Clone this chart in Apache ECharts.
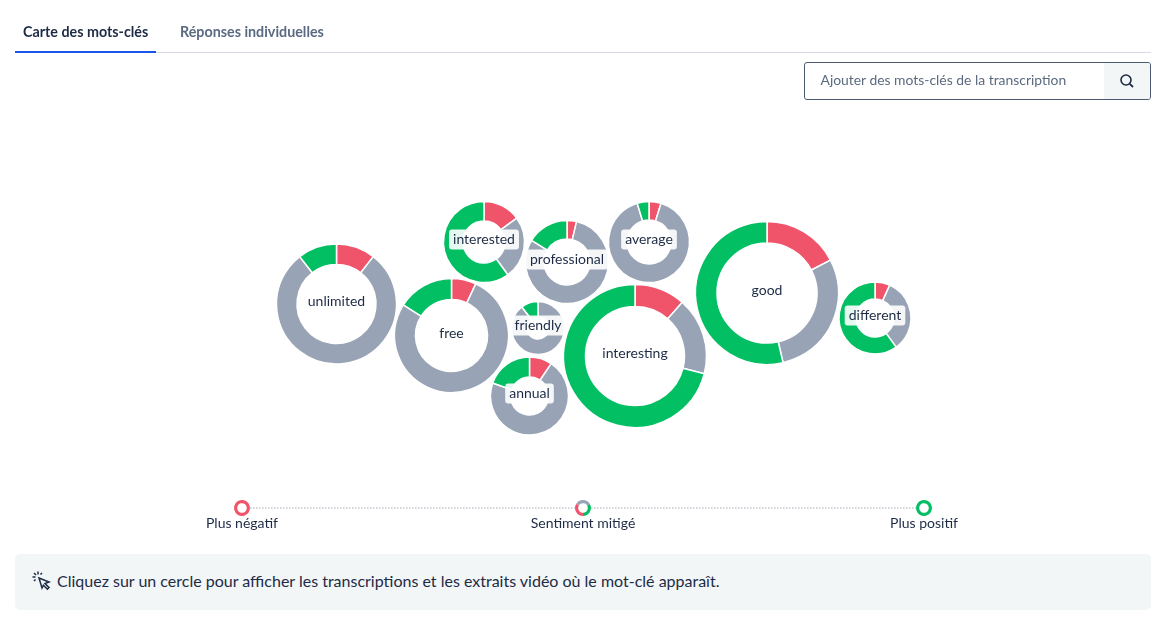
<!DOCTYPE html>
<html lang="fr"><head><meta charset="utf-8">
<script src="https://cdn.jsdelivr.net/npm/echarts@6/dist/echarts.min.js"></script>
<style>
html,body{margin:0;padding:0;background:#fff;width:1170px;height:624px;overflow:hidden;font-family:Lato,"Open Sans",sans-serif;color:#1d2b45}
#chart{position:absolute;left:0;top:0;width:1170px;height:624px}
.abs{position:absolute;white-space:nowrap}
.tab{font-size:14.3px;font-weight:700;line-height:16px;top:24px}
#rule{left:15px;top:52px;width:1136px;height:1px;background:#d8dbe3}
#active{left:15px;top:51px;width:141px;height:2px;background:#1a56eb}
#search{left:804px;top:62px;width:345px;height:36px;border:1px solid #4b5a73;border-radius:3px;overflow:hidden}
#search span{position:absolute;left:15.5px;top:8px;font-size:13.9px;line-height:18px;color:#5b6a80}
#btn{position:absolute;right:0;top:0;width:46px;height:36px;background:#f2f6f7}
#panel{left:15px;top:554px;width:1136px;height:56px;background:#f2f6f7;border-radius:5px}
#panel span{position:absolute;left:42px;top:17px;font-size:16px;line-height:20px;color:#1d2b45}
</style></head><body>
<div id="chart"></div>
<div class="abs tab" style="left:23px;color:#1d2b45">Carte des mots-clés</div>
<div class="abs tab" style="left:180px;color:#5a6a82">Réponses individuelles</div>
<div class="abs" id="rule"></div><div class="abs" id="active"></div>
<div class="abs" id="search"><span>Ajouter des mots-clés de la transcription</span>
<div id="btn"><svg width="46" height="36" viewBox="0 0 46 36"><circle cx="22" cy="17" r="5" fill="none" stroke="#1d2b45" stroke-width="1.6"/><line x1="25.8" y1="20.8" x2="29" y2="24" stroke="#1d2b45" stroke-width="1.8"/></svg></div></div>
<div class="abs" id="panel">
<svg style="position:absolute;left:16px;top:16px" width="22" height="22" viewBox="0 0 22 22" fill="none" stroke="#1d2b45" stroke-width="1.5"><path d="M8 8l10 4-4 1.6 4 4-1.6 1.6-4-4L11 18z"/><path d="M7 1.5v3M1.5 7h3M3 3l2 2M11 3L9.5 4.5M3 11l1.5-1.5"/></svg>
<span>Cliquez sur un cercle pour afficher les transcriptions et les extraits vidéo où le mot-clé apparaît.</span></div>
<script>
var keywords=["unlimited","free","friendly","annual","interested","professional","average","interesting","good","different"];
var centerX=[336.5,451.5,538,529.5,484,567,649,635,767,875];
var centerY=[304,335.5,328,396,242,262,242,356,293,318];
var outerR=[60,57,26.5,39,40.5,41.5,40.5,71.5,71.5,36];
var innerR=[39.5,36,11,19,21,23,22,49.5,50,19];
var negative=[10.5,7,0,9.4,15,3.7,4.8,11.5,17.4,6.7];
var neutral=[79,77,89.6,71,25,80,90.5,17.5,29,33.3];
var positive=[10.5,16,10.4,19.6,60,16.3,4.7,71,53.6,60];
var legendLabels=["Plus négatif","Sentiment mitigé","Plus positif"];
var legendX=[242,583,924];
var legendY=508;
var legendValues=[[0,0,1],[1,1,1],[1,0,0]];
var RED="#f0546a",GRAY="#98a4b5",GREEN="#03bf63";
var series=keywords.map(function(k,i){
  return {type:"pie",name:k,silent:true,animation:false,clockwise:true,startAngle:90,
    center:[centerX[i],centerY[i]],radius:[innerR[i],outerR[i]],z:2,
    minShowLabelAngle:0,avoidLabelOverlap:false,labelLine:{show:false},
    itemStyle:{borderColor:"#fff",borderWidth:1.5},
    data:[
      {value:negative[i],name:"negative",itemStyle:{color:RED},label:{show:false}},
      {value:neutral[i],name:"neutral",itemStyle:{color:GRAY},
       label:{show:true,position:"center",offset:[0,-2.5],formatter:k,color:"#1d2b45",fontFamily:"Lato",fontSize:14,
         backgroundColor:"rgba(255,255,255,0.9)",padding:[3,4],borderRadius:3}},
      {value:positive[i],name:"positive",itemStyle:{color:GREEN},label:{show:false}}
    ]};
});
legendLabels.forEach(function(t,i){
  var v=legendValues[i];
  series.push({type:"pie",name:t,silent:true,animation:false,startAngle:150,z:3,
    center:[legendX[i],legendY],radius:[4.8,8],labelLine:{show:false},
    itemStyle:{borderWidth:0},
    data:[
     {value:v[0],itemStyle:{color:i===1?GRAY:GREEN},label:{show:false}},
     {value:v[1],itemStyle:{color:GREEN},label:{show:false}},
     {value:v[2],itemStyle:{color:RED},label:{show:false}}
    ]});
});
var graphics=[];
for(var s=0;s<legendX.length-1;s++){
  graphics.push({type:"line",z:1,shape:{x1:legendX[s]+8,y1:legendY,x2:legendX[s+1]-8,y2:legendY},
    style:{stroke:"#c4c8ce",lineWidth:1.5,lineDash:[1.5,1.5]}});
}
legendLabels.forEach(function(t,i){
  graphics.push({type:"text",x:legendX[i],y:legendY+15,z:4,
   style:{text:t,fill:"#1d2b45",font:'14px Lato',align:"center",verticalAlign:"middle"}});
});
var chart=echarts.init(document.getElementById("chart"),null,{renderer:"canvas"});
chart.setOption({animation:false,series:series,graphic:graphics});
</script></body></html>
